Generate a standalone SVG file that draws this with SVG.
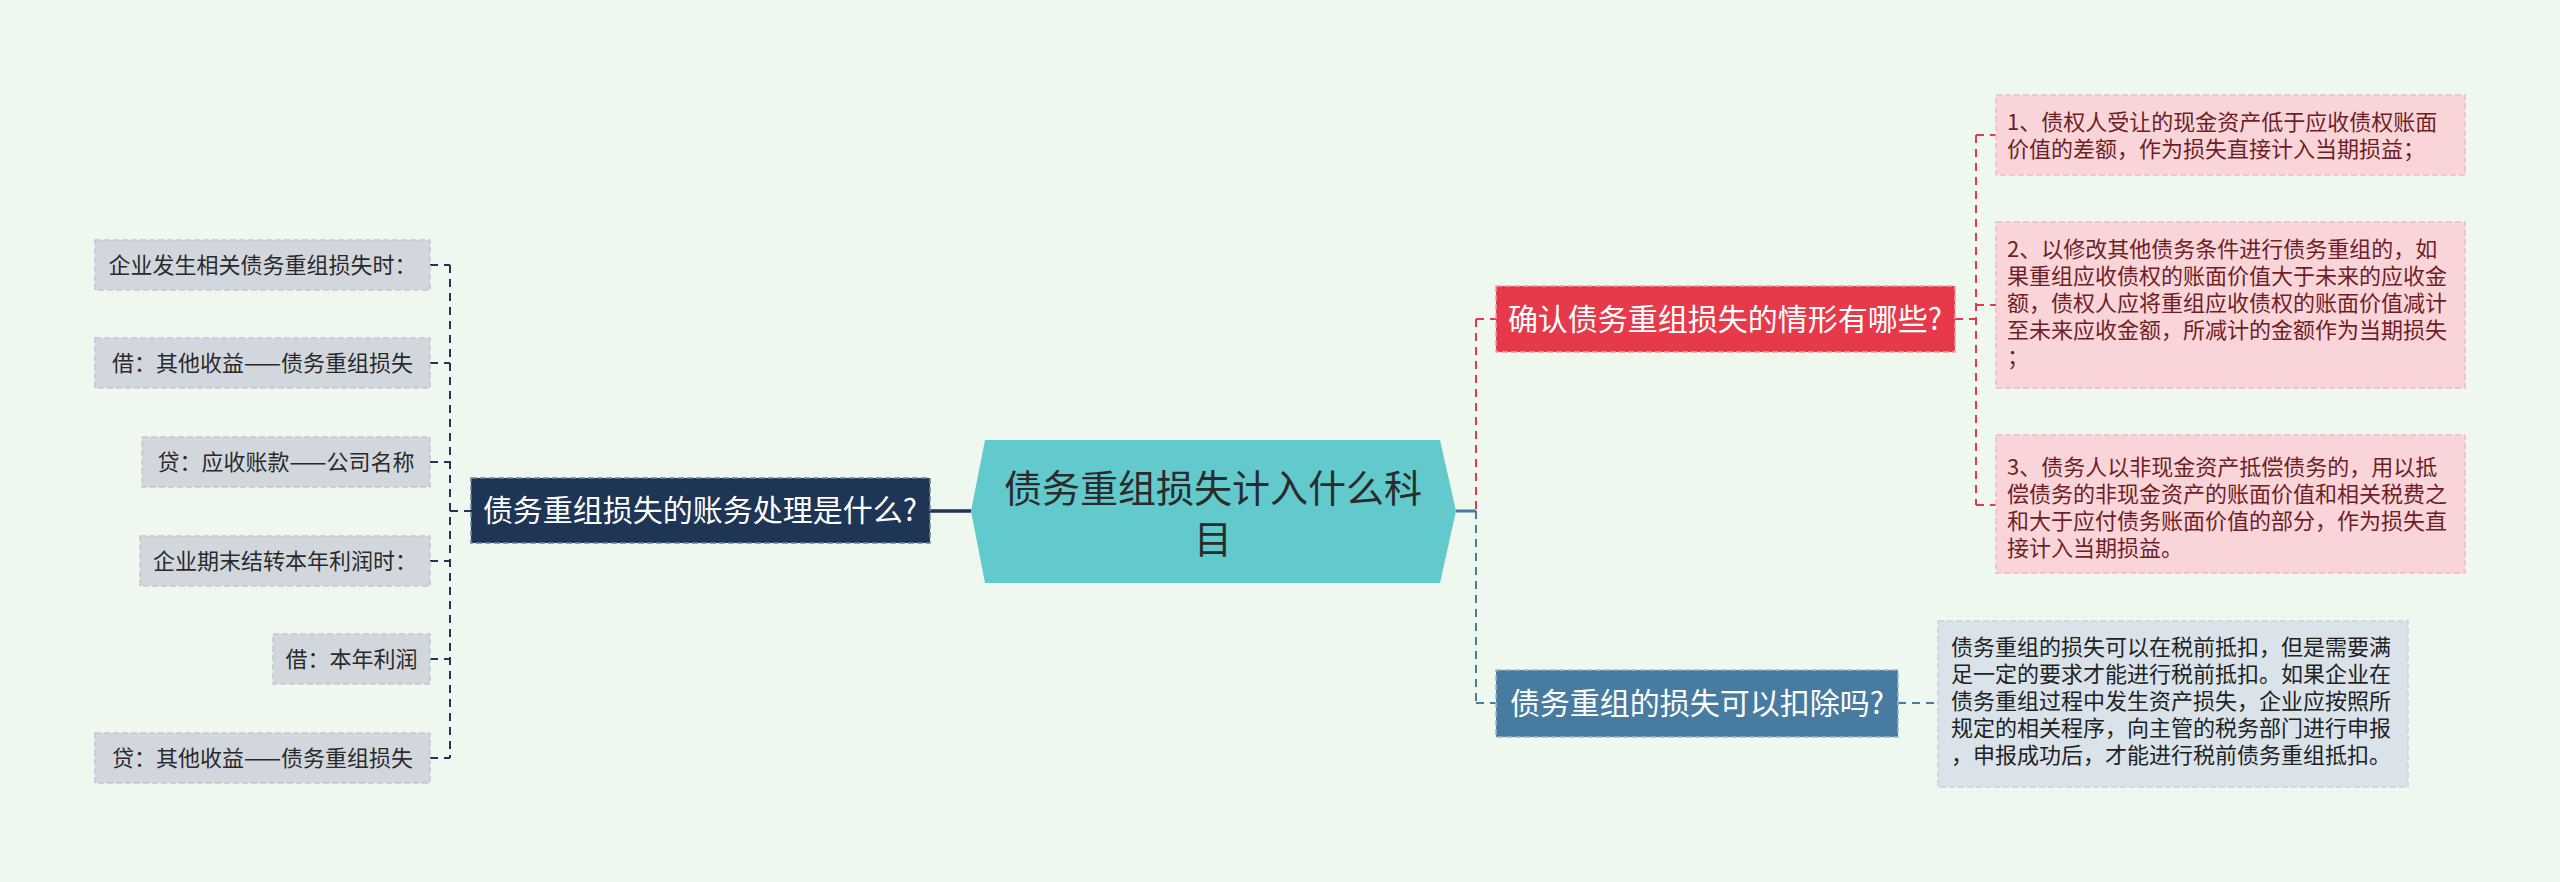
<svg xmlns="http://www.w3.org/2000/svg" width="2560" height="882" viewBox="0 0 2560 882">
<style>
text{font-family:"Noto Sans CJK SC","Noto Sans CJK TC",sans-serif}
.leafL{fill:#d2d7de;stroke:#c3c9d1;stroke-width:1.5;stroke-dasharray:6 3}
.leafLt{font-size:22px;fill:#2a2a2a;text-anchor:middle}
.leafR{fill:#f9d5da;stroke:#f1bcc4;stroke-width:1.5;stroke-dasharray:6 3}
.leafRt{font-size:22px;fill:#6e1f26}
.leafB{fill:#dbe3ea;stroke:#c7d2dc;stroke-width:1.5;stroke-dasharray:6 3}
.leafBt{font-size:22px;fill:#222}
.br{font-size:30px;fill:#fff;text-anchor:middle}
.cn{fill:none;stroke-width:2;stroke-dasharray:8 6}
</style>
<rect width="2560" height="882" fill="#eff8ee"/>
<g id="connectors">
  <line x1="930" y1="511" x2="971" y2="511" stroke="#1e3556" stroke-width="3.5"/>
  <line x1="450" y1="511" x2="471" y2="511" class="cn" stroke="#1e3556"/>
  <line x1="450" y1="265" x2="450" y2="758" class="cn" stroke="#1e3556"/>
  <line x1="430" y1="265" x2="450" y2="265" class="cn" stroke="#1e3556"/>
  <line x1="430" y1="363" x2="450" y2="363" class="cn" stroke="#1e3556"/>
  <line x1="430" y1="462" x2="450" y2="462" class="cn" stroke="#1e3556"/>
  <line x1="430" y1="561" x2="450" y2="561" class="cn" stroke="#1e3556"/>
  <line x1="430" y1="659" x2="450" y2="659" class="cn" stroke="#1e3556"/>
  <line x1="430" y1="758" x2="450" y2="758" class="cn" stroke="#1e3556"/>
  <line x1="1456" y1="511" x2="1476" y2="511" stroke="#477ca0" stroke-width="3"/>
  <line x1="1476" y1="319" x2="1476" y2="511" class="cn" stroke="#e23a4a"/>
  <line x1="1476" y1="319" x2="1496" y2="319" class="cn" stroke="#e23a4a"/>
  <line x1="1476" y1="511" x2="1476" y2="703" class="cn" stroke="#477ca0"/>
  <line x1="1476" y1="703" x2="1496" y2="703" class="cn" stroke="#477ca0"/>
  <line x1="1955" y1="319" x2="1976" y2="319" class="cn" stroke="#e23a4a"/>
  <line x1="1976" y1="135" x2="1976" y2="505" class="cn" stroke="#e23a4a"/>
  <line x1="1976" y1="135" x2="1996" y2="135" class="cn" stroke="#e23a4a"/>
  <line x1="1976" y1="305" x2="1996" y2="305" class="cn" stroke="#e23a4a"/>
  <line x1="1976" y1="505" x2="1996" y2="505" class="cn" stroke="#e23a4a"/>
  <line x1="1898" y1="703" x2="1938" y2="703" class="cn" stroke="#477ca0"/>
</g>
<g id="center">
  <polygon points="985,440 1440,440 1456,511 1440,583 985,583 971,511" fill="#62c9cc"/>
  <text x="1213" y="502" font-size="38" fill="#2b2b2b" text-anchor="middle">债务重组损失计入什么科</text>
  <text x="1213" y="553" font-size="38" fill="#2b2b2b" text-anchor="middle">目</text>
</g>
<g id="branch-left">
  <rect x="471" y="478" width="459" height="65" fill="#1e3556" stroke="#6f829c" stroke-width="1.5" stroke-dasharray="6 3"/>
  <text x="700" y="521" class="br">债务重组损失的账务处理是什么?</text>
</g>
<g id="leaf-l1"><rect x="95" y="240" width="335" height="50" class="leafL"/><text x="262.5" y="273" class="leafLt">企业发生相关债务重组损失时：</text></g>
<g id="leaf-l2"><rect x="95" y="338" width="335" height="50" class="leafL"/><text x="262.5" y="371" class="leafLt">借：其他收益——债务重组损失</text></g>
<g id="leaf-l3"><rect x="142" y="437" width="288" height="50" class="leafL"/><text x="286" y="470" class="leafLt">贷：应收账款——公司名称</text></g>
<g id="leaf-l4"><rect x="140" y="536" width="290" height="50" class="leafL"/><text x="285" y="569" class="leafLt">企业期末结转本年利润时：</text></g>
<g id="leaf-l5"><rect x="273" y="634" width="157" height="50" class="leafL"/><text x="351.5" y="667" class="leafLt">借：本年利润</text></g>
<g id="leaf-l6"><rect x="95" y="733" width="335" height="50" class="leafL"/><text x="262.5" y="766" class="leafLt">贷：其他收益——债务重组损失</text></g>
<g id="branch-red">
  <rect x="1496" y="286" width="459" height="66" fill="#e63a4b" stroke="#f39aa4" stroke-width="1.5" stroke-dasharray="6 3"/>
  <text x="1725" y="330" class="br">确认债务重组损失的情形有哪些?</text>
</g>
<g id="leaf-r1"><rect x="1996" y="95" width="469" height="80" class="leafR"/>
  <text class="leafRt"><tspan x="2007" y="130">1、债权人受让的现金资产低于应收债权账面</tspan><tspan x="2007" y="157">价值的差额，作为损失直接计入当期损益；</tspan></text></g>
<g id="leaf-r2"><rect x="1996" y="222" width="469" height="166" class="leafR"/>
  <text class="leafRt"><tspan x="2007" y="257">2、以修改其他债务条件进行债务重组的，如</tspan><tspan x="2007" y="284">果重组应收债权的账面价值大于未来的应收金</tspan><tspan x="2007" y="311">额，债权人应将重组应收债权的账面价值减计</tspan><tspan x="2007" y="338">至未来应收金额，所减计的金额作为当期损失</tspan><tspan x="2007" y="365">；</tspan></text></g>
<g id="leaf-r3"><rect x="1996" y="435" width="469" height="138" class="leafR"/>
  <text class="leafRt"><tspan x="2007" y="475">3、债务人以非现金资产抵偿债务的，用以抵</tspan><tspan x="2007" y="502">偿债务的非现金资产的账面价值和相关税费之</tspan><tspan x="2007" y="529">和大于应付债务账面价值的部分，作为损失直</tspan><tspan x="2007" y="556">接计入当期损益。</tspan></text></g>
<g id="branch-blue">
  <rect x="1496" y="670" width="402" height="67" fill="#477ca0" stroke="#9bb8cf" stroke-width="1.5" stroke-dasharray="6 3"/>
  <text x="1697" y="714" class="br">债务重组的损失可以扣除吗?</text>
</g>
<g id="leaf-b1"><rect x="1938" y="621" width="470" height="166" class="leafB"/>
  <text class="leafBt"><tspan x="1951" y="655">债务重组的损失可以在税前抵扣，但是需要满</tspan><tspan x="1951" y="682">足一定的要求才能进行税前抵扣。如果企业在</tspan><tspan x="1951" y="709">债务重组过程中发生资产损失，企业应按照所</tspan><tspan x="1951" y="736">规定的相关程序，向主管的税务部门进行申报</tspan><tspan x="1951" y="763">，申报成功后，才能进行税前债务重组抵扣。</tspan></text></g>
</svg>
